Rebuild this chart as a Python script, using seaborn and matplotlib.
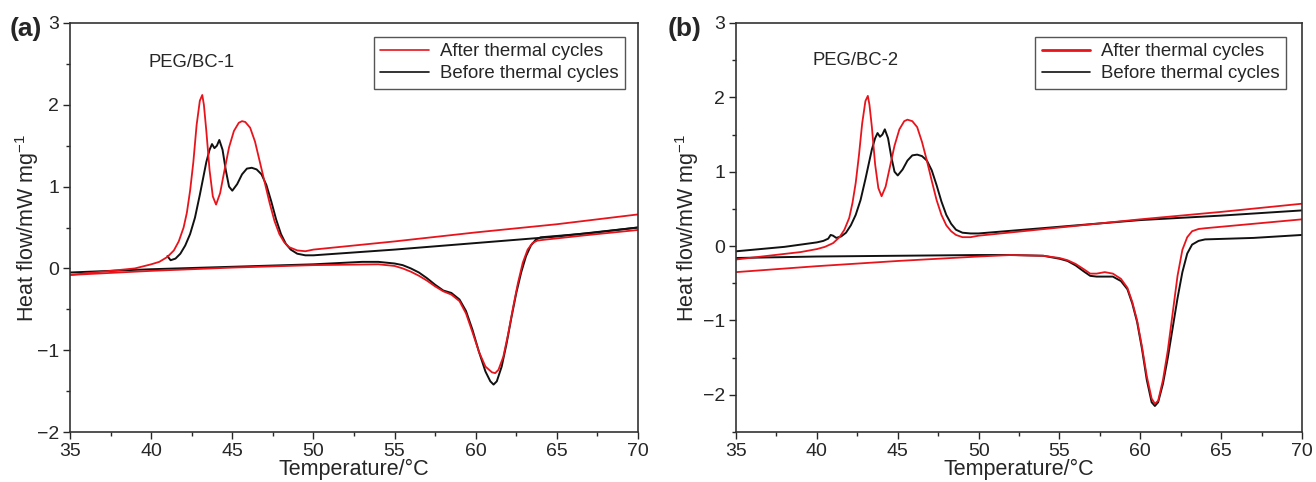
import numpy as np
import pandas as pd
import matplotlib.pyplot as plt
import seaborn as sns
from matplotlib.ticker import MultipleLocator

# --- panel (a) PEG/BC-1 ---
# cooling branches (70 -> 35 degC), heating branches (35 -> 70 degC)
a_after_cool_T = [70, 65, 60, 55, 50, 49.5, 49, 48.5, 48.2, 47.9, 47.6, 47.3, 47.0, 46.7, 46.4, 46.1, 45.8,
                  45.6, 45.4, 45.1, 44.8, 44.5, 44.25, 44.0, 43.8, 43.6, 43.4, 43.25, 43.15, 43.0, 42.8, 42.6,
                  42.4, 42.2, 42.0, 41.7, 41.4, 41.0, 40.5, 40, 39, 37, 35]
a_after_cool_H = [0.66, 0.54, 0.44, 0.33, 0.23, 0.21, 0.22, 0.26, 0.32, 0.42, 0.58, 0.8, 1.05, 1.3, 1.55, 1.72,
                  1.79, 1.8, 1.78, 1.68, 1.48, 1.18, 0.92, 0.78, 0.88, 1.2, 1.68, 2.0, 2.12, 2.05, 1.75, 1.3,
                  0.95, 0.68, 0.5, 0.33, 0.22, 0.14, 0.08, 0.05, 0.0, -0.04, -0.08]
a_after_heat_T = [35, 40, 45, 50, 54, 55, 55.5, 56, 56.5, 57, 57.5, 58, 58.5, 59, 59.4, 59.8, 60.2, 60.6,
                  61.0, 61.2, 61.4, 61.7, 62.0, 62.3, 62.6, 62.9, 63.2, 63.5, 63.8, 64.2, 67, 70]
a_after_heat_H = [-0.08, -0.03, 0.01, 0.04, 0.05, 0.03, 0.0, -0.04, -0.09, -0.15, -0.22, -0.28, -0.32, -0.4,
                  -0.55, -0.78, -1.02, -1.2, -1.27, -1.28, -1.24, -1.08, -0.8, -0.48, -0.18, 0.07, 0.23, 0.31,
                  0.34, 0.35, 0.41, 0.47]
a_before_cool_T = [70, 65, 60, 55, 50, 49.5, 49, 48.6, 48.3, 48, 47.7, 47.4, 47.1, 46.8, 46.5, 46.2, 45.9,
                   45.6, 45.3, 45.0, 44.8, 44.6, 44.4, 44.2, 44.05, 43.9, 43.75, 43.6, 43.4, 43.2, 43.0, 42.7,
                   42.4, 42.1, 41.8, 41.5, 41.2, 41.0]
a_before_cool_H = [0.5, 0.39, 0.31, 0.23, 0.16, 0.16, 0.18, 0.23, 0.3, 0.42, 0.6, 0.82, 1.02, 1.15, 1.21, 1.23,
                   1.22, 1.15, 1.03, 0.95, 1.0, 1.2, 1.45, 1.57, 1.5, 1.47, 1.52, 1.45, 1.3, 1.1, 0.9, 0.62,
                   0.42, 0.28, 0.18, 0.12, 0.1, 0.15]
a_before_heat_T = [35, 40, 45, 50, 53, 54, 55, 55.5, 56, 56.5, 57, 57.5, 58, 58.5, 59, 59.4, 59.8, 60.2,
                   60.6, 60.9, 61.1, 61.3, 61.6, 61.9, 62.2, 62.5, 62.8, 63.1, 63.4, 63.7, 64, 67, 70]
a_before_heat_H = [-0.05, -0.01, 0.02, 0.05, 0.08, 0.08, 0.06, 0.04, 0.0, -0.05, -0.12, -0.2, -0.27, -0.3,
                   -0.38, -0.52, -0.75, -1.02, -1.26, -1.38, -1.42, -1.38, -1.2, -0.92, -0.6, -0.3, -0.05,
                   0.15, 0.28, 0.35, 0.38, 0.43, 0.5]

# --- panel (b) PEG/BC-2 ---
b_after_cool_T = [70, 65, 60, 55, 50, 49.5, 49, 48.6, 48.3, 48, 47.7, 47.4, 47.1, 46.8, 46.5, 46.2, 45.9,
                  45.6, 45.4, 45.1, 44.8, 44.5, 44.25, 44.0, 43.8, 43.6, 43.4, 43.25, 43.15, 43.0, 42.8, 42.6,
                  42.4, 42.2, 42.0, 41.7, 41.4, 41.0, 40.5, 40, 39, 37, 35]
b_after_cool_H = [0.57, 0.46, 0.36, 0.25, 0.14, 0.12, 0.12, 0.15, 0.2, 0.28, 0.42, 0.62, 0.88, 1.15, 1.4, 1.6,
                  1.68, 1.7, 1.68, 1.57, 1.35, 1.05, 0.8, 0.67, 0.78, 1.1, 1.6, 1.9, 2.02, 1.95, 1.65, 1.22,
                  0.85, 0.58, 0.38, 0.22, 0.12, 0.04, -0.01, -0.04, -0.08, -0.13, -0.18]
b_after_heat_T = [35, 40, 45, 50, 52, 54, 55, 55.5, 56, 56.5, 56.9, 57.3, 57.8, 58.3, 58.8, 59.2, 59.5, 59.8,
                  60.1, 60.4, 60.7, 60.9, 61.1, 61.4, 61.7, 62.0, 62.3, 62.6, 62.9, 63.2, 63.6, 64, 67, 70]
b_after_heat_H = [-0.35, -0.27, -0.2, -0.14, -0.12, -0.13, -0.16, -0.19, -0.24, -0.31, -0.37, -0.37, -0.35,
                  -0.37, -0.44, -0.56, -0.75, -1.0, -1.35, -1.75, -2.05, -2.12, -2.08, -1.8, -1.4, -0.9, -0.4,
                  -0.05, 0.12, 0.2, 0.23, 0.24, 0.3, 0.36]
b_before_cool_T = [70, 65, 60, 55, 50, 49.5, 49, 48.6, 48.3, 48, 47.7, 47.4, 47.1, 46.8, 46.5, 46.2, 45.9,
                   45.6, 45.3, 45.0, 44.8, 44.6, 44.4, 44.2, 44.05, 43.9, 43.75, 43.6, 43.4, 43.2, 43.0, 42.7,
                   42.4, 42.1, 41.8, 41.5, 41.2, 41.0, 40.85, 40.7, 40.4, 40, 38, 35]
b_before_cool_H = [0.48, 0.41, 0.35, 0.26, 0.17, 0.17, 0.18, 0.22, 0.3, 0.42, 0.6, 0.82, 1.02, 1.15, 1.21, 1.23,
                   1.22, 1.15, 1.03, 0.95, 1.0, 1.2, 1.45, 1.57, 1.5, 1.47, 1.52, 1.45, 1.3, 1.1, 0.9, 0.62,
                   0.42, 0.28, 0.18, 0.13, 0.11, 0.14, 0.15, 0.1, 0.07, 0.05, -0.01, -0.07]
b_before_heat_T = [35, 40, 45, 50, 52, 54, 55, 55.5, 56, 56.5, 56.9, 57.3, 57.8, 58.3, 58.8, 59.2, 59.5, 59.8,
                   60.1, 60.4, 60.7, 60.9, 61.1, 61.4, 61.7, 62.0, 62.3, 62.6, 62.9, 63.2, 63.6, 64, 67, 70]
b_before_heat_H = [-0.16, -0.14, -0.13, -0.12, -0.12, -0.13, -0.17, -0.2, -0.26, -0.34, -0.4, -0.41, -0.41,
                   -0.41, -0.47, -0.58, -0.77, -1.02, -1.38, -1.8, -2.1, -2.15, -2.1, -1.85, -1.5, -1.1, -0.7,
                   -0.35, -0.1, 0.02, 0.07, 0.09, 0.11, 0.15]

LABEL_AFTER = 'After thermal cycles'
LABEL_BEFORE = 'Before thermal cycles'
RED = '#e8141c'
BLACK = '#111111'

sns.set_style('ticks')
plt.rcParams['font.family'] = ['Liberation Sans', 'DejaVu Sans']
plt.rcParams['mathtext.fontset'] = 'custom'
plt.rcParams['mathtext.rm'] = 'Liberation Sans'
plt.rcParams['mathtext.it'] = 'Liberation Sans:italic'


def draw_branch(ax, T, H, color, lw):
    df = pd.DataFrame({'T': T, 'H': H})
    sns.lineplot(data=df, x='T', y='H', sort=False, color=color, lw=lw, ax=ax, legend=False)


def draw_panel(ax, curves, ylim, name, name_xy, legend_lw, leg_x, ylab_pad):
    (ac_T, ac_H, ah_T, ah_H, bc_T, bc_H, bh_T, bh_H) = curves
    draw_branch(ax, bc_T, bc_H, BLACK, 1.4)
    draw_branch(ax, bh_T, bh_H, BLACK, 1.4)
    draw_branch(ax, ac_T, ac_H, RED, 1.3)
    draw_branch(ax, ah_T, ah_H, RED, 1.3)

    ax.set_xlim(35, 70)
    ax.set_ylim(*ylim)
    ax.set_xticks(range(35, 71, 5))
    ax.set_yticks([-2, -1, 0, 1, 2, 3])
    ax.xaxis.set_minor_locator(MultipleLocator(2.5))
    ax.yaxis.set_minor_locator(MultipleLocator(0.5))
    ax.tick_params(which='major', direction='out', length=5, width=1, labelsize=14, pad=3)
    ax.tick_params(which='minor', direction='out', length=3, width=1)
    for s in ax.spines.values():
        s.set_visible(True)
        s.set_linewidth(1.2)
        s.set_color('#333333')
    ax.set_xlabel('Temperature/°C', fontsize=15.5, labelpad=-1)
    ax.set_ylabel('Heat flow/mW mg$^{-1}$', fontsize=15.5, labelpad=ylab_pad)

    ax.text(name_xy[0], name_xy[1], name, fontsize=13.3, ha='center', va='center')

    h1, = ax.plot([], [], color=RED, lw=legend_lw, label=LABEL_AFTER)
    h2, = ax.plot([], [], color=BLACK, lw=1.2, label=LABEL_BEFORE)
    leg = ax.legend(handles=[h1, h2], loc='upper right', bbox_to_anchor=(leg_x, 0.966), borderaxespad=0,
                    fontsize=13.4, frameon=True, fancybox=False, framealpha=1, edgecolor='#555555',
                    borderpad=0.35, handlelength=2.6, handletextpad=0.6, labelspacing=0.25)
    leg.get_frame().set_linewidth(1.0)


fig = plt.figure(figsize=(13.16, 4.82), dpi=100)
ax1 = fig.add_axes([0.0532, 0.1037, 0.4316, 0.8486])
ax2 = fig.add_axes([0.5593, 0.1037, 0.4301, 0.8486])

draw_panel(ax1, (a_after_cool_T, a_after_cool_H, a_after_heat_T, a_after_heat_H,
                 a_before_cool_T, a_before_cool_H, a_before_heat_T, a_before_heat_H),
           (-2, 3), 'PEG/BC-1', (42.5, 2.52), 1.2, 0.977, -3)
draw_panel(ax2, (b_after_cool_T, b_after_cool_H, b_after_heat_T, b_after_heat_H,
                 b_before_cool_T, b_before_cool_H, b_before_heat_T, b_before_heat_H),
           (-2.5, 3), 'PEG/BC-2', (42.4, 2.49), 2.0, 0.972, 1)

fig.text(10 / 1316, 1 - 29 / 482, '(a)', fontsize=19, fontweight='bold', ha='left', va='center')
fig.text(668 / 1316, 1 - 29 / 482, '(b)', fontsize=19, fontweight='bold', ha='left', va='center')

fig.savefig('out.png', dpi=100)
